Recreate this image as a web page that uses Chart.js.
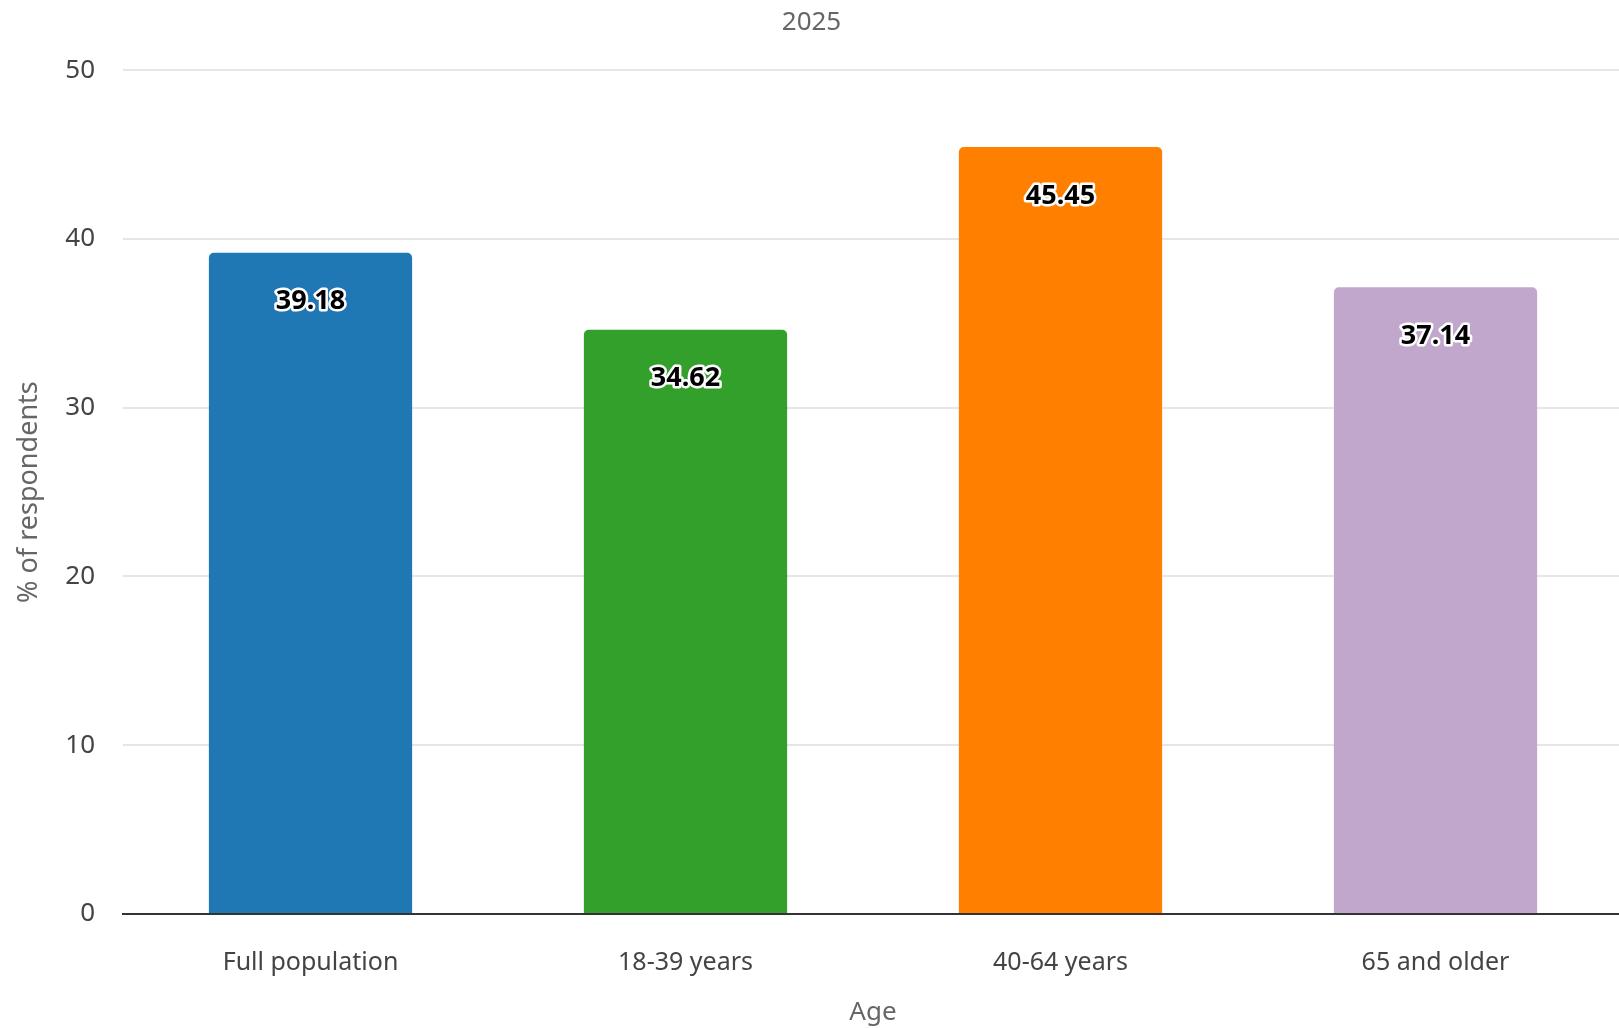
<!DOCTYPE html>
<html>
<head>
<meta charset="utf-8">
<script src="https://cdn.jsdelivr.net/npm/chart.js@4/dist/chart.umd.min.js"></script>
<style>
  html, body { margin: 0; padding: 0; background: #ffffff; overflow: hidden; }
  #wrap { width: 1619px; height: 1028px; position: relative; overflow: hidden; }
  #c { display: block; }
</style>
</head>
<body>
<div id="wrap"><canvas id="c" width="1623" height="1028"></canvas></div>
<script>
const categories = ["Full population", "18-39 years", "40-64 years", "65 and older"];
const values = [39.18, 34.62, 45.45, 37.14];
const barColors = ["#1f77b4", "#33a02c", "#ff7f00", "#c2a7cc"];
const yTicks = [0, 10, 20, 30, 40, 50];
const chartTitle = "2025";
const xTitle = "Age";
const yTitle = "% of respondents";

const FONT = "'Noto Sans', 'Open Sans', sans-serif";

const labelPlugin = {
  id: 'barLabels',
  afterDatasetsDraw(chart) {
    const ctx = chart.ctx;
    const meta = chart.getDatasetMeta(0);
    ctx.save();
    ctx.font = "bold 27px " + FONT;
    ctx.textAlign = "center";
    ctx.textBaseline = "middle";
    ctx.lineJoin = "round";
    meta.data.forEach((bar, i) => {
      const txt = values[i].toFixed(2);
      const y = bar.y + 49;
      ctx.lineWidth = 5;
      ctx.strokeStyle = "#ffffff";
      ctx.strokeText(txt, bar.x, y);
      ctx.fillStyle = "#000000";
      ctx.fillText(txt, bar.x, y);
    });
    ctx.restore();
  }
};

new Chart(document.getElementById('c'), {
  type: 'bar',
  data: {
    labels: categories,
    datasets: [{
      data: values,
      backgroundColor: barColors,
      borderRadius: { topLeft: 5, topRight: 5 },
      borderSkipped: 'bottom',
      categoryPercentage: 0.542,
      barPercentage: 1.0
    }]
  },
  options: {
    responsive: false,
    animation: false,
    devicePixelRatio: 1,
    layout: { padding: { left: 0, right: 0, top: 0, bottom: 0 } },
    plugins: {
      legend: { display: false },
      tooltip: { enabled: false },
      title: {
        display: true,
        text: chartTitle,
        color: "#666666",
        font: { family: FONT, size: 26, weight: 'normal', lineHeight: 1.2 },
        padding: { top: 7, bottom: 32 }
      }
    },
    scales: {
      x: {
        grid: { display: false, drawTicks: false },
        border: { display: true, color: "#333333", width: 2 },
        ticks: {
          color: "#444444",
          font: { family: FONT, size: 25 },
          padding: 34
        },
        title: {
          display: true,
          text: xTitle,
          color: "#666666",
          font: { family: FONT, size: 26 },
          padding: { top: 6, bottom: 0 }
        },
        afterFit(scale) { scale.height = 114; }
      },
      y: {
        min: 0,
        max: 50,
        afterBuildTicks(scale) { scale.ticks = yTicks.map(v => ({ value: v })); },
        grid: { color: "#e6e6e6", lineWidth: 2, drawTicks: false },
        border: { display: false },
        ticks: {
          color: "#444444",
          font: { family: FONT, size: 26 },
          padding: 28
        },
        title: {
          display: true,
          text: yTitle,
          color: "#666666",
          font: { family: FONT, size: 27 },
          padding: { top: 13, bottom: 8 }
        },
        afterFit(scale) { scale.width = 123; }
      }
    }
  },
  plugins: [labelPlugin]
});
</script>
</body>
</html>
